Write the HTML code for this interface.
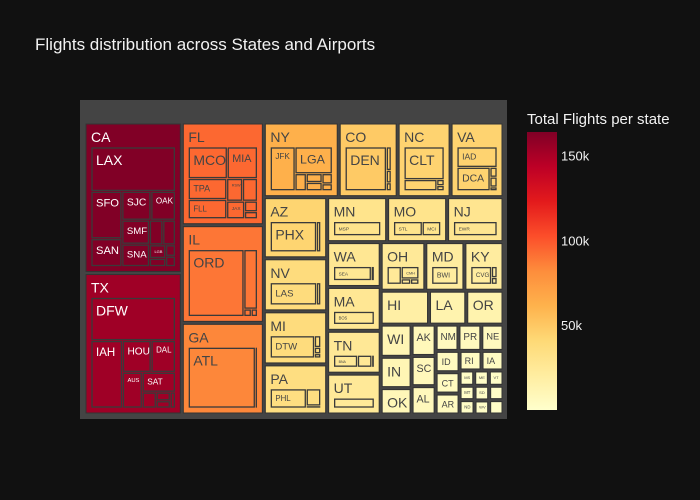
<!DOCTYPE html>
<html><head><meta charset="utf-8">
<style>
html,body{margin:0;padding:0;background:#111111;}
svg{display:block;font-family:"Liberation Sans","DejaVu Sans",sans-serif;}
</style></head>
<body>
<svg id="chart" width="700" height="500" xmlns="http://www.w3.org/2000/svg">
<rect x="0" y="0" width="700" height="500" fill="#111111"/>
<text x="35" y="50" fill="#f2f2f2" font-size="17">Flights distribution across States and Airports</text>
<rect x="80" y="100" width="427" height="319" fill="#444444"/>
<g id="tiles"></g>
<defs>
<linearGradient id="cbgrad" x1="0" y1="1" x2="0" y2="0">
<stop offset="0" stop-color="rgb(255,255,204)"/><stop offset="0.125" stop-color="rgb(255,237,160)"/>
<stop offset="0.25" stop-color="rgb(254,217,118)"/><stop offset="0.375" stop-color="rgb(254,178,76)"/>
<stop offset="0.5" stop-color="rgb(253,141,60)"/><stop offset="0.625" stop-color="rgb(252,78,42)"/>
<stop offset="0.75" stop-color="rgb(227,26,28)"/><stop offset="0.875" stop-color="rgb(189,0,38)"/>
<stop offset="1" stop-color="rgb(128,0,38)"/>
</linearGradient>
</defs>
<text x="527" y="124" fill="#f2f2f2" font-size="15">Total Flights per state</text>
<rect x="527" y="132" width="30" height="278" fill="url(#cbgrad)"/>
<g id="cbticks"></g>
</svg>
<script>
// ---- data ----
const states = ["CA","TX","FL","IL","GA","NY","CO","NC","VA","AZ","NV","MI","PA","MN","MO","NJ","WA","MA","TN","UT","OH","MD","KY","HI","LA","OR","WI","IN","OK","AK","SC","AL","NM","PR","NE","ID","CT","AR","RI","IA","MS","ME","VT","MT","ND","SD","WV","NH","WY"];
const stateFlights = [163500,153700,94000,89400,83900,62400,49100,44100,44100,43200,37500,37500,35400,30100,30100,28300,26800,26200,25600,24400,24200,21200,21200,18300,14100,14100,11100,10800,9100,8400,8100,7600,6700,6700,6500,5700,5700,5600,4800,4800,2500,2500,2500,2400,2400,2400,2300,2300,2300];
const airports = {
 CA:[["LAX",3400],["SFO",1330],["SAN",780],["SJC",760],["OAK",640],["SMF",600],["SNA",560],["BUR",300],["ONT",280],["LGB",200],["PSP",120],["SBA",100],["FAT",90]],
 TX:[["DFW",3600],["IAH",2100],["HOU",900],["DAL",760],["AUS",700],["SAT",650],["ELP",220],["MAF",120],["LBB",100],["CRP",80]],
 FL:[["MCO",1100],["MIA",850],["TPA",720],["FLL",660],["RSW",320],["PBI",300],["JAX",280],["PNS",120],["TLH",80]],
 IL:[["ORD",4200],["MDW",900],["PIA",60],["MLI",50]],
 GA:[["ATL",5200],["SAV",160]],
 NY:[["JFK",1250],["LGA",1150],["BUF",220],["ROC",160],["ALB",150],["SYR",120],["ISP",80]],
 CO:[["DEN",2400],["COS",150],["ASE",80],["EGE",50]],
 NC:[["CLT",1800],["RDU",500],["GSO",60],["AVL",50]],
 VA:[["IAD",950],["DCA",900],["ORF",80],["RIC",80],["ROA",30]],
 AZ:[["PHX",2000],["TUS",180]],
 NV:[["LAS",1700],["RNO",150]],
 MI:[["DTW",1500],["GRR",110],["FNT",60],["LAN",40]],
 PA:[["PHL",900],["PIT",320],["ABE",40]],
 MN:[["MSP",1000]],
 MO:[["STL",700],["MCI",450]],
 NJ:[["EWR",1000]],
 WA:[["SEA",900],["GEG",70]],
 MA:[["BOS",1000]],
 TN:[["BNA",500],["MEM",300],["TYS",50]],
 UT:[["SLC",1000]],
 OH:[["CLE",400],["CMH",350],["CAK",80],["DAY",70]],
 MD:[["BWI",1000]],
 KY:[["CVG",600],["SDF",100],["LEX",60]],
 HI:[["HNL",500],["OGG",150],["KOA",80],["LIH",60]],
 LA:[["MSY",1000]],
 OR:[["PDX",1000]]
};
const cbTickVals = [50000,100000,150000];
const cbTickLabels = ["50k","100k","150k"];
const cMin = 0, cMax = 164000;

// ---- helpers ----
const scale = [[0,[255,255,204]],[0.125,[255,237,160]],[0.25,[254,217,118]],[0.375,[254,178,76]],[0.5,[253,141,60]],[0.625,[252,78,42]],[0.75,[227,26,28]],[0.875,[189,0,38]],[1,[128,0,38]]];
function colorOf(v){
  let t=Math.max(0,Math.min(1,(v-cMin)/(cMax-cMin)));
  for(let i=1;i<scale.length;i++){
    if(t<=scale[i][0]){const a=scale[i-1],b=scale[i];const f=(t-a[0])/(b[0]-a[0]);
      const c=a[1].map((x,k)=>Math.round(x+(b[1][k]-x)*f));return [c,`rgb(${c[0]},${c[1]},${c[2]})`];}
  }
  return [scale[8][1],'rgb(128,0,38)'];
}
function squarify(items,x0,y0,x1,y1){
  const nodes=items.map(d=>({d,value:d.value}));
  let value=nodes.reduce((s,n)=>s+n.value,0);
  const n=nodes.length;let i0=0,i1=0;const ratio=1;
  while(i0<n){
    const dx=x1-x0,dy=y1-y0;
    let sum=nodes[i1++].value,minV=sum,maxV=sum;
    const alpha=Math.max(dy/dx,dx/dy)/(value*ratio);
    let beta=sum*sum*alpha;let minR=Math.max(maxV/beta,beta/minV);
    for(;i1<n;++i1){
      const nv=nodes[i1].value;sum+=nv;
      if(nv<minV)minV=nv;if(nv>maxV)maxV=nv;
      beta=sum*sum*alpha;const nr=Math.max(maxV/beta,beta/minV);
      if(nr>minR){sum-=nv;break;}minR=nr;
    }
    const row=nodes.slice(i0,i1);
    if(dx<dy){const ny=y0+dy*sum/value;let x=x0;
      row.forEach(r=>{const w=dx*r.value/sum;r.x0=x;r.x1=x+w;r.y0=y0;r.y1=ny;x+=w;});y0=ny;}
    else{const nx=x0+dx*sum/value;let y=y0;
      row.forEach(r=>{const h=dy*r.value/sum;r.y0=y;r.y1=y+h;r.x0=x0;r.x1=nx;y+=h;});x0=nx;}
    value-=sum;i0=i1;
  }
  return nodes;
}
const NS="http://www.w3.org/2000/svg";
const tiles=document.getElementById('tiles');
function mk(tag,attrs,parent){const e=document.createElementNS(NS,tag);for(const k in attrs)e.setAttribute(k,attrs[k]);parent.appendChild(e);return e;}

// ---- draw states ----
const stateItems=states.map((s,i)=>({name:s,value:stateFlights[i]}));
const laid=squarify(stateItems,84.5,122.5,503.5,414.5);
laid.forEach(nd=>{
  const s=nd.d.name;
  const x=nd.x0+1.5,y=nd.y0+1.5,w=nd.x1-nd.x0-3,h=nd.y1-nd.y0-3;
  if(w<=0||h<=0)return;
  const [rgb,col]=colorOf(nd.d.value);
  const lum=0.299*rgb[0]+0.587*rgb[1]+0.114*rgb[2];
  const txt=lum<100?'#ffffff':'#444444';
  const g=mk('g',{},tiles);
  
  
  const r=mk('rect',{x:x,y:y,width:w,height:h,fill:col,stroke:'#333333','stroke-width':1},g);
  
  
  let fs=Math.min(14,(w-6)/(s.length*0.7),h-4);
  if(h<22)fs=Math.min(fs,9);
  if(fs>=4){
    const t=mk('text',{x:x+(w<26?w/2-s.length*fs*0.33:5),y:y+Math.min(fs+4,h/2+fs/2-1),fill:txt,'font-size':fs.toFixed(1)},g);
    t.textContent=s;
    
    
  }
  const aps=airports[s];
  const ax0=x+5,ay0=y+23,ax1=x+w-5,ay1=y+h-5;
  if(ax1-ax0<6||ay1-ay0<6)return;
  const list=aps?aps.map(a=>({name:a[0],value:a[1]})):[{name:'',value:1}];
  const al=squarify(list,ax0,ay0,ax1,ay1);
  al.forEach(a=>{
    const bx=a.x0+1,by=a.y0+1,bw=a.x1-a.x0-2,bh=a.y1-a.y0-2;
    if(bw<=0||bh<=0)return;
    const ar=mk('rect',{x:bx,y:by,width:bw,height:bh,fill:col,stroke:'#3a3a3a','stroke-width':1.3},g);
    
    
    if(!a.d.name)return;
    let afs=Math.min(14,(bw-6)/(a.d.name.length*0.68),(bh-4)*0.6);
    if(afs<3.5)return;
    const at=mk('text',{x:bx+4,y:by+afs+3,fill:txt,'font-size':afs.toFixed(1)},g);
    at.textContent=a.d.name;
    
    
  });
});

// ---- colorbar ticks ----
const cb=document.getElementById('cbticks');
cbTickVals.forEach((v,i)=>{
  const yy=410-(v-cMin)/(cMax-cMin)*278;
  const t=mk('text',{x:561,y:yy+5,fill:'#f2f2f2','font-size':13},cb);
  t.textContent=cbTickLabels[i];
  
  
});
</script>
</body></html>
